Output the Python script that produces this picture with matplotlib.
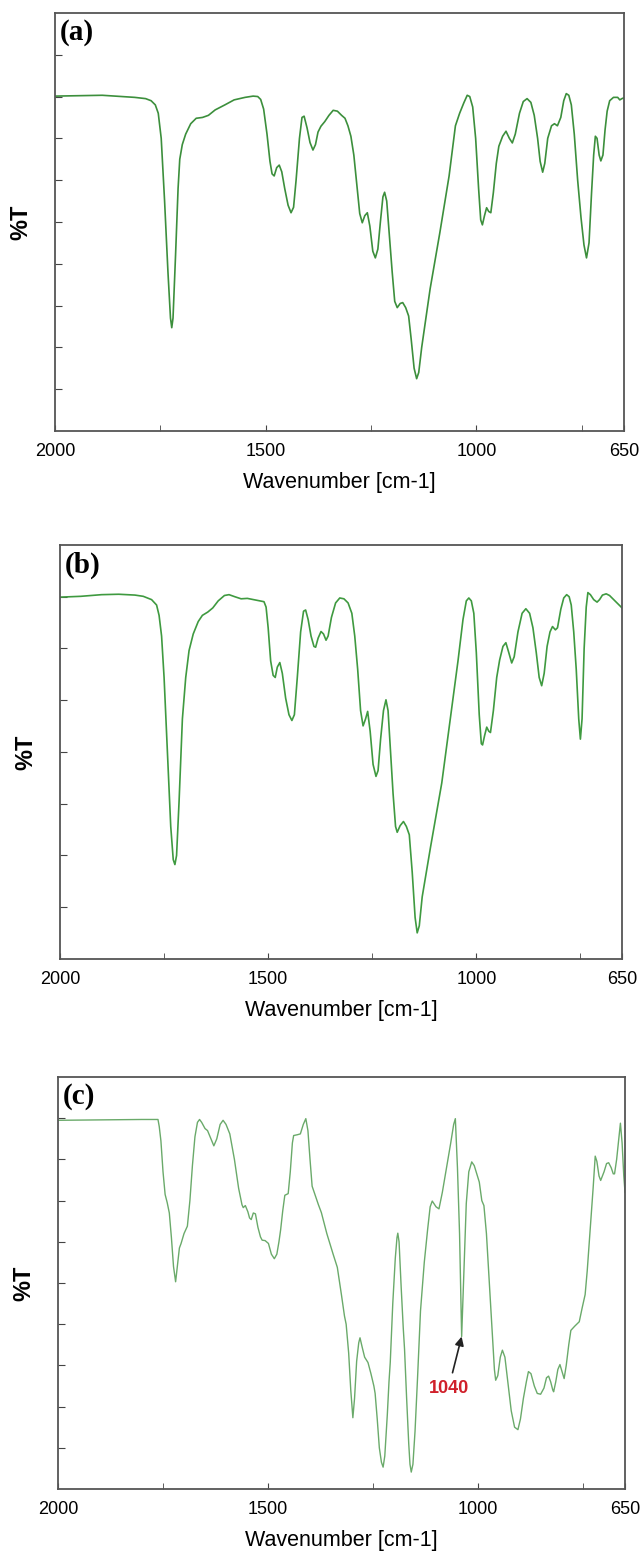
import matplotlib.pyplot as plt
from matplotlib.ticker import FixedLocator

# spectra: wavenumber (cm-1) and %T (axis 0-100)
wn_a = [2000, 1950, 1888, 1840, 1811, 1785, 1772, 1762, 1755, 1748, 1740, 1732, 1726, 1723,
        1720, 1714, 1708, 1704, 1698, 1690, 1678, 1665, 1650, 1636, 1620, 1597, 1575, 1549,
        1530, 1519, 1512, 1505, 1497, 1490, 1485, 1480, 1474, 1468, 1462, 1455, 1447, 1440,
        1434, 1428, 1420, 1414, 1409, 1402, 1395, 1388, 1382, 1376, 1369, 1360, 1350, 1340,
        1330, 1320, 1312, 1305, 1298, 1291, 1284, 1277, 1271, 1265, 1259, 1253, 1246, 1240,
        1234, 1228, 1222, 1218, 1213, 1207, 1200, 1194, 1188, 1181, 1175, 1168, 1161, 1155,
        1148, 1142, 1137, 1130, 1110, 1087, 1065, 1050, 1040, 1030, 1022, 1016, 1009, 1002,
        995, 990, 986, 981, 976, 971, 966, 960, 953, 947, 938, 930, 922, 915, 908, 898, 889,
        880, 871, 863, 855, 849, 843, 838, 831, 822, 815, 808, 800, 793, 787, 781, 775, 768,
        760, 752, 745, 739, 733, 727, 722, 718, 714, 709, 705, 700, 695, 690, 684, 675, 665,
        660, 655, 650]
t_a = [80.1, 80.2, 80.3, 80.0, 79.8, 79.5, 79.0, 78.0, 76.0, 70.0, 55.0, 38.0, 27.0, 24.7,
       27.0, 42.0, 58.0, 65.0, 68.5, 71.0, 73.5, 74.8, 75.0, 75.5, 76.8, 78.0, 79.2, 79.8,
       80.1, 80.0, 79.3, 77.0, 71.0, 64.5, 61.5, 61.0, 63.0, 63.6, 62.0, 58.0, 54.0, 52.2,
       53.5, 60.0, 70.0, 75.0, 75.3, 72.5, 69.0, 67.2, 68.5, 71.5, 72.9, 74.0, 75.5, 76.7,
       76.5, 75.5, 74.8, 73.0, 70.5, 66.0, 59.0, 52.0, 49.8, 51.5, 52.2, 49.0, 43.0, 41.4,
       43.5, 50.0, 56.0, 57.1, 55.0, 47.0, 38.0, 31.0, 29.5, 30.5, 30.7, 29.5, 27.5, 22.0,
       15.0, 12.5, 14.0, 20.0, 34.0, 47.4, 61.0, 73.0, 76.0, 78.5, 80.3, 80.0, 77.5, 70.0,
       58.0, 50.5, 49.3, 51.5, 53.4, 52.5, 52.2, 57.0, 64.0, 68.1, 70.5, 71.7, 70.0, 68.9,
       71.0, 76.0, 78.8, 79.5, 78.6, 75.5, 70.0, 64.5, 61.9, 64.0, 70.0, 73.0, 73.5, 73.0,
       75.0, 79.0, 80.7, 80.3, 78.0, 71.0, 60.0, 51.0, 44.5, 41.4, 45.0, 57.0, 66.0, 70.5,
       70.0, 66.0, 64.6, 66.0, 72.0, 76.5, 79.0, 79.8, 79.8, 79.2, 79.5, 79.7]

wn_b = [2000, 1950, 1900, 1859, 1820, 1800, 1780, 1768, 1762, 1756, 1750, 1742, 1734, 1728,
        1724, 1720, 1714, 1706, 1698, 1690, 1680, 1668, 1658, 1645, 1633, 1620, 1605, 1594,
        1580, 1565, 1550, 1535, 1520, 1510, 1505, 1500, 1494, 1488, 1483, 1478, 1472, 1466,
        1458, 1450, 1443, 1437, 1430, 1422, 1415, 1410, 1404, 1397, 1390, 1386, 1380, 1373,
        1367, 1361, 1356, 1348, 1338, 1328, 1318, 1308, 1299, 1292, 1285, 1278, 1272, 1266,
        1261, 1255, 1248, 1241, 1236, 1230, 1223, 1217, 1212, 1206, 1200, 1194, 1190, 1183,
        1175, 1168, 1161, 1154, 1147, 1142, 1137, 1130, 1110, 1083, 1060, 1044, 1032, 1024,
        1018, 1012, 1006, 1000, 993, 988, 985, 980, 975, 970, 966, 959, 951, 944, 936, 929,
        922, 915, 909, 900, 890, 881, 872, 864, 856, 849, 843, 837, 830, 823, 817, 810, 805,
        797, 790, 783, 777, 772, 766, 760, 754, 750, 746, 741, 736, 732, 726, 718, 710, 704,
        697, 688, 680, 672, 662, 650]
t_b = [87.4, 87.6, 88.0, 88.1, 87.9, 87.6, 86.8, 85.5, 83.0, 78.0, 68.0, 50.0, 32.0, 24.0,
       22.8, 25.0, 38.0, 58.0, 68.0, 74.5, 78.5, 81.5, 83.0, 83.8, 84.8, 86.5, 87.8, 88.0,
       87.5, 87.0, 87.1, 86.8, 86.5, 86.3, 85.0, 80.0, 72.0, 68.5, 68.0, 70.5, 71.6, 69.0,
       63.0, 59.0, 57.6, 59.0, 68.0, 79.0, 84.0, 84.3, 82.0, 78.0, 75.5, 75.3, 77.5, 79.1,
       78.5, 77.0, 78.0, 82.5, 86.0, 87.2, 87.0, 86.0, 83.5, 78.0, 70.0, 60.0, 56.3, 58.0,
       59.8, 55.0, 47.0, 44.1, 45.5, 53.0, 60.0, 62.6, 60.0, 50.0, 40.0, 32.0, 30.6, 32.2,
       33.2, 32.0, 30.0, 21.0, 10.0, 6.3, 8.0, 15.0, 27.0, 42.5, 60.0, 72.0, 82.0, 86.5,
       87.2, 86.5, 83.5, 74.0, 59.0, 52.0, 51.7, 54.0, 56.0, 55.0, 54.7, 60.0, 68.0, 72.2,
       75.5, 76.4, 74.0, 71.5, 73.0, 79.0, 83.5, 84.6, 83.5, 80.0, 74.0, 68.0, 66.0, 69.0,
       75.5, 79.0, 80.3, 79.5, 80.0, 84.5, 87.2, 88.0, 87.5, 85.5, 79.0, 70.0, 58.0, 53.1,
       58.0, 75.0, 85.0, 88.5, 88.0, 86.8, 86.2, 86.8, 87.9, 88.2, 87.8, 87.0, 86.0, 84.8]

wn_c = [2000, 1900, 1800, 1762, 1759, 1755, 1750, 1745, 1740, 1735, 1730, 1725, 1720, 1716,
        1711, 1707, 1700, 1692, 1686, 1680, 1674, 1668, 1663, 1658, 1650, 1644, 1636, 1629,
        1622, 1614, 1607, 1600, 1591, 1580, 1570, 1562, 1559, 1554, 1548, 1544, 1540, 1535,
        1530, 1524, 1518, 1514, 1507, 1499, 1492, 1485, 1479, 1474, 1470, 1465, 1460, 1452,
        1447, 1442, 1439, 1430, 1423, 1416, 1410, 1405, 1400, 1395, 1390, 1380, 1373, 1360,
        1345, 1335, 1325, 1318, 1314, 1308, 1303, 1298, 1294, 1289, 1284, 1281, 1276, 1270,
        1262, 1255, 1248, 1245, 1240, 1235, 1230, 1226, 1222, 1216, 1212, 1209, 1203, 1197,
        1193, 1191, 1188, 1183, 1178, 1175, 1170, 1165, 1162, 1159, 1155, 1150, 1144, 1137,
        1128, 1120, 1114, 1109, 1100, 1093, 1085, 1075, 1065, 1058, 1054, 1049, 1044, 1039,
        1034, 1028, 1022, 1015, 1009, 1003, 997, 991, 986, 980, 973, 966, 961, 958, 953, 947,
        942, 936, 929, 921, 913, 905, 899, 892, 885, 880, 874, 866, 859, 851, 843, 837, 832,
        827, 822, 820, 815, 810, 805, 800, 795, 790, 784, 779, 770, 765, 759, 752, 745, 740,
        733, 726, 721, 717, 712, 708, 700, 694, 689, 683, 678, 675, 670, 665, 661, 657, 653,
        650]
t_c = [89.5, 89.6, 89.7, 89.7, 88.0, 84.5, 77.0, 71.5, 69.5, 67.0, 61.0, 54.0, 50.3, 54.0,
       58.5, 59.6, 62.0, 63.8, 70.0, 78.5, 85.5, 89.0, 89.7, 89.0, 87.5, 87.0, 85.0, 83.3,
       85.0, 88.5, 89.5, 88.5, 86.2, 80.0, 73.0, 69.0, 68.3, 68.8, 67.3, 65.8, 65.4, 67.0,
       66.8, 63.5, 61.2, 60.4, 60.3, 59.6, 57.0, 55.9, 57.0, 60.0, 62.9, 67.5, 71.3, 71.7,
       77.0, 84.0, 85.8, 86.0, 86.2, 88.5, 89.9, 87.0, 80.0, 73.5, 72.0, 69.0, 67.1, 62.0,
       57.0, 53.8, 47.0, 42.0, 40.0, 33.0, 24.0, 17.3, 22.0, 31.0, 35.5, 36.7, 34.5, 32.0,
       30.7, 28.0, 25.0, 23.2, 17.0, 10.0, 6.5, 5.3, 8.0, 18.0, 26.0, 30.7, 45.0, 56.0,
       61.0, 62.1, 60.0, 49.0, 39.0, 34.0, 22.0, 11.0, 6.0, 4.1, 6.0, 14.0, 27.0, 43.2,
       55.0, 63.0, 68.5, 69.9, 68.5, 68.0, 72.0, 78.0, 84.0, 88.5, 89.9, 78.0, 62.0, 37.0,
       52.0, 69.3, 77.0, 79.4, 78.5, 76.5, 74.5, 70.0, 68.8, 62.0, 50.0, 38.0, 29.0, 26.4,
       27.5, 32.0, 33.7, 32.0, 26.0, 19.0, 15.0, 14.4, 17.0, 22.0, 26.0, 28.5, 28.0, 25.0,
       23.2, 23.0, 24.5, 27.0, 27.4, 26.0, 24.0, 23.6, 26.0, 29.0, 30.2, 28.5, 26.8, 30.0,
       35.0, 38.5, 39.5, 40.0, 40.6, 44.0, 47.2, 53.0, 63.0, 73.0, 80.8, 79.5, 76.0, 74.9,
       77.0, 79.0, 79.2, 78.0, 76.5, 76.5, 80.0, 85.0, 88.8, 84.0, 76.0, 72.0]

panels = [
    ('(a)', wn_a, t_a, [0.0858, 0.7234, 0.8877, 0.2683], [10, 20, 30, 40, 50, 60, 70, 80, 90], '#3c8f3c', 1.2),
    ('(b)', wn_b, t_b, [0.0936, 0.3845, 0.8768, 0.2657], [12.5, 25, 37.5, 50, 62.5, 75, 87.5], '#3f9a40', 1.2),
    ('(c)', wn_c, t_c, [0.0905, 0.0443, 0.8846, 0.2644], [10, 20, 30, 40, 50, 60, 70, 80, 90], '#6aaa6a', 1.0),
]

fig = plt.figure(figsize=(6.41, 15.58), dpi=100)

for label, wn, t, pos, yt, col, lw in panels:
    ax = fig.add_axes(pos)
    ax.plot(wn, t, color=col, lw=lw)
    ax.set_xlim(2000, 650)
    ax.set_ylim(0, 100)
    ax.set_xticks([2000, 1500, 1000, 650])
    ax.set_xticklabels(['2000', '1500', '1000', '650'], fontsize=13, family='Liberation Sans')
    ax.xaxis.set_minor_locator(FixedLocator([1750, 1250, 750]))
    ax.set_yticks(yt)
    ax.set_yticklabels([])
    ax.tick_params(axis='x', which='both', direction='in', length=4, color='#444444', pad=9)
    ax.tick_params(axis='y', direction='in', length=5, color='#444444')
    for s in ax.spines.values():
        s.set_color('#555555')
        s.set_linewidth(1.3)
    ax.set_xlabel('Wavenumber [cm-1]', fontsize=15.5, family='Liberation Sans', labelpad=8)
    ax.set_ylabel('%T', fontsize=17, fontweight='bold', family='Liberation Sans', labelpad=13)
    ax.text(0.008, 0.985, label, transform=ax.transAxes, ha='left', va='top',
            fontsize=21, fontweight='bold', family='Liberation Serif')

ax.annotate('1040', xy=(1039, 37), xytext=(1070, 24.5), ha='center', va='center',
            fontsize=13, fontweight='bold', color='#d0202a', family='Liberation Sans',
            arrowprops=dict(arrowstyle='-|>', color='#222222', lw=1.2,
                            mutation_scale=13, shrinkA=3, shrinkB=0))

fig.savefig('out.png', dpi=100)
